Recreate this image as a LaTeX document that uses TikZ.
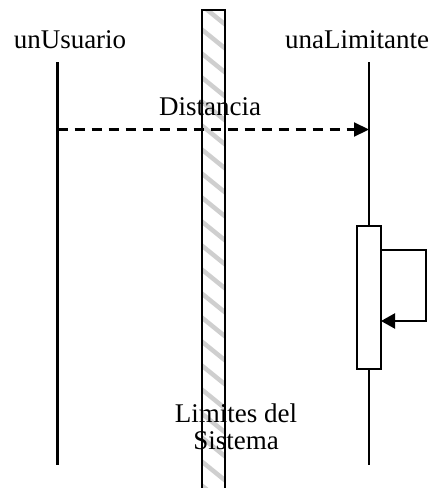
\documentclass[tikz,border=0pt]{standalone}
\usepackage{fontspec}
\setmainfont{Liberation Serif}
\usetikzlibrary{arrows.meta}
\begin{document}
\begin{tikzpicture}[x=1pt,y=-1pt,
  lbl/.style={font=\fontsize{27}{27}\selectfont, inner sep=0pt, anchor=base},
  lifeline/.style={line width=2.2pt},
  msgline/.style={line width=2.2pt, dash pattern=on 10pt off 7pt, -{Triangle[length=15pt,width=14pt]}},
  selfmsg/.style={line width=2.2pt, -{Triangle[length=14pt,width=15pt]}},
  actbox/.style={draw, line width=2.2pt, fill=white},
  hatch/.style={line width=4.5pt, draw=gray!38}]
\useasboundingbox (0,0) rectangle (432,488);

% system boundary bar with diagonal hatching
\begin{scope}
  \clip (202,10) rectangle (225,500);
  \foreach \y in {-24,0,...,504}
    \draw[hatch] (195,\y) -- (232,\y+30);
\end{scope}
\draw[line width=2.2pt] (202,500) -- (202,10) -- (225,10) -- (225,500);

% lifeline heads
\node[lbl] (usr) at (70,48) {unUsuario};
\node[lbl] (lim) at (357,48) {unaLimitante};

% lifelines
\coordinate (usrTop) at (57.5,62);
\coordinate (usrBot) at (57.5,465);
\coordinate (limTop) at (369,62);
\coordinate (limBot) at (369,465);
\draw[lifeline] (usrTop) -- (usrBot);
\draw[lifeline] (limTop) -- (limBot);

% message
\coordinate (msgA) at (57.5,129.5);
\coordinate (msgB) at (369,129.5);
\draw[msgline] (msgA) -- (msgB);
\node[lbl] (dist) at (210,115) {Distancia};

% activation and self call
\node[actbox, minimum width=24pt, minimum height=143pt, inner sep=0pt] (act) at (369,297.5) {};
\coordinate (loopA) at (381,250);
\coordinate (loopB) at (426,250);
\coordinate (loopC) at (426,321);
\coordinate (loopD) at (381,321);
\draw[selfmsg] (loopA) -- (loopB) -- (loopC) -- (loopD);

% boundary label (base anchor sits on the last line)
\node[lbl, align=center] (sys) at (236,449) {Limites del\\Sistema};
\end{tikzpicture}
\end{document}
